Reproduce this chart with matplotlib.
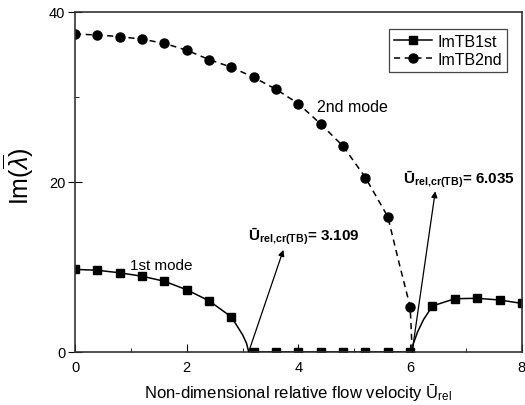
import matplotlib
matplotlib.use('Agg')
import matplotlib.pyplot as plt
from matplotlib.ticker import MultipleLocator

plt.rcParams['font.family'] = ['Liberation Sans', 'DejaVu Sans']
plt.rcParams['mathtext.fontset'] = 'custom'
plt.rcParams['mathtext.rm'] = 'Liberation Sans'
plt.rcParams['mathtext.it'] = 'Liberation Sans:italic'
plt.rcParams['mathtext.bf'] = 'Liberation Sans:bold'

# marker values
u_1st = [0.0, 0.4, 0.8, 1.2, 1.6, 2.0, 2.4, 2.8, 3.2, 3.6, 4.0, 4.4, 4.8,
         5.2, 5.6, 6.0, 6.4, 6.8, 7.2, 7.6, 8.0]
im_1st = [9.7, 9.6, 9.3, 8.9, 8.3, 7.3, 6.0, 4.1, 0, 0, 0, 0, 0,
          0, 0, 0, 5.4, 6.25, 6.3, 6.1, 5.7]

u_2nd = [0.0, 0.4, 0.8, 1.2, 1.6, 2.0, 2.4, 2.8, 3.2, 3.6, 4.0, 4.4, 4.8,
         5.2, 5.6, 6.0]
im_2nd = [37.4, 37.3, 37.1, 36.8, 36.3, 35.5, 34.4, 33.5, 32.3, 30.9, 29.2,
          26.8, 24.2, 20.5, 15.9, 5.3]

# curves
line1_u = [0.0, 0.4, 0.8, 1.2, 1.6, 2.0, 2.4, 2.8, 3.0, 3.07, 3.109,
           6.035, 6.06, 6.13, 6.24, 6.4, 6.8, 7.2, 7.6, 8.0]
line1_im = [9.7, 9.6, 9.3, 8.9, 8.3, 7.3, 6.0, 4.1, 2.0, 1.0, 0,
            0, 1.0, 2.3, 3.8, 5.4, 6.25, 6.3, 6.1, 5.7]
line2_u = u_2nd[:15] + [5.8, 6.0, 6.02, 6.035]
line2_im = im_2nd[:15] + [10.5, 5.3, 2.5, 0]

u_cr1, u_cr2 = 3.109, 6.035

fig = plt.figure(figsize=(5.25, 4.06), dpi=100)
ax = fig.add_axes([0.143, 0.131, 0.851, 0.837])

ax.plot(line1_u, line1_im, color='black', lw=1.1)
ax.plot(line2_u, line2_im, color='black', lw=1.1, ls=(0, (4, 3)))
ax.plot(u_1st, im_1st, 's', color='black', ms=6)
ax.plot(u_2nd, im_2nd, 'o', color='black', ms=6.5)

# legend handles
h1, = ax.plot([], [], '-s', color='black', lw=1.1, ms=6)
h2, = ax.plot([], [], 'o', color='black', ls=(0, (4, 3)), lw=1.1, ms=6.5)
leg = ax.legend([h1, h2], ['ImTB1st', 'ImTB2nd'], loc='upper right',
                bbox_to_anchor=(0.966, 0.95), fontsize=11.5, fancybox=False,
                framealpha=1, edgecolor='#444444', handlelength=2.4,
                borderpad=0.3, labelspacing=0.2, handletextpad=0.3,
                borderaxespad=0)
leg.get_frame().set_linewidth(0.9)

ax.set_xlim(0, 8)
ax.set_ylim(0, 40)
ax.xaxis.set_major_locator(MultipleLocator(2))
ax.xaxis.set_minor_locator(MultipleLocator(1))
ax.yaxis.set_major_locator(MultipleLocator(20))
ax.yaxis.set_minor_locator(MultipleLocator(10))
ax.tick_params(axis='x', which='both', direction='in', labelsize=10.5, pad=6)
ax.tick_params(axis='x', which='major', length=6)
ax.tick_params(axis='x', which='minor', length=3)
ax.tick_params(axis='y', which='major', direction='inout', length=10, labelsize=10.5, pad=2)
ax.tick_params(axis='y', which='minor', direction='in', length=3)
for s in ax.spines.values():
    s.set_linewidth(1.2)
    s.set_color('#333333')

ax.set_xlabel('Non-dimensional relative flow velocity Ū$_{\\mathrm{rel}}$',
              fontsize=12, labelpad=5)
ax.set_ylabel(r'Im($\overline{\lambda}$)', fontsize=18)
ax.yaxis.set_label_coords(-0.088, 0.52)

ax.text(0.99, 9.7, '1st mode', fontsize=11, va='baseline')
ax.text(4.34, 28.3, '2nd mode', fontsize=11.5, va='baseline')

arrow = dict(arrowstyle='-|>', color='black', lw=0.9, mutation_scale=9,
             shrinkA=0, shrinkB=0)
ax.annotate('', xy=(3.73, 12.0), xytext=(u_cr1, 0), arrowprops=arrow,
            annotation_clip=False)
ax.annotate('', xy=(6.45, 18.9), xytext=(u_cr2, 0), arrowprops=arrow,
            annotation_clip=False)
sub = 'Ū$_{\\mathbf{rel{,}cr(TB)}}$= %.3f'
ax.text(3.10, 12.4, sub % u_cr1, fontsize=11, fontweight='bold', va='bottom')
ax.text(5.88, 19.2, sub % u_cr2, fontsize=11, fontweight='bold', va='bottom')

fig.savefig('out.png', dpi=100)
